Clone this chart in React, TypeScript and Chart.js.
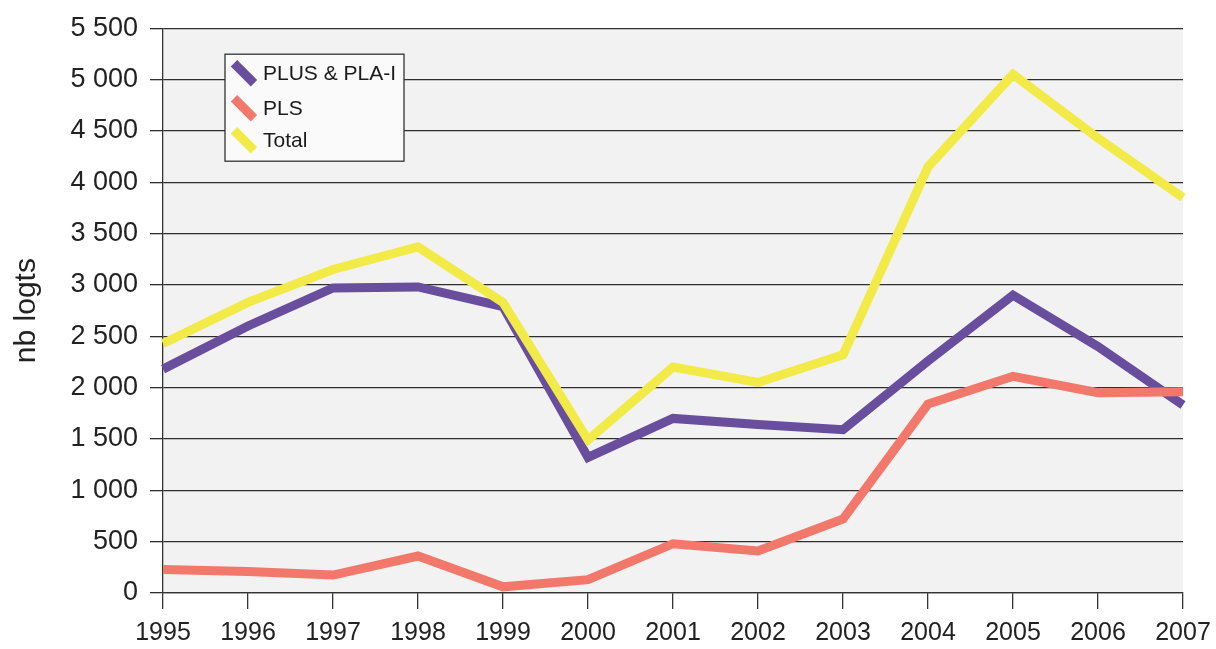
import React, { useEffect, useRef } from "react";
import { Chart, registerables } from "chart.js";

Chart.register(...registerables);

const years = ["1995", "1996", "1997", "1998", "1999", "2000", "2001", "2002", "2003", "2004", "2005", "2006", "2007"];
const plusPla = [2180, 2600, 2970, 2980, 2790, 1320, 1700, 1640, 1590, 2260, 2900, 2400, 1830];
const pls = [230, 210, 175, 360, 60, 130, 480, 410, 720, 1840, 2110, 1950, 1960];
const total = [2430, 2830, 3150, 3370, 2830, 1490, 2200, 2050, 2320, 4150, 5050, 4430, 3850];
const seriesNames = ["PLUS & PLA-I", "PLS", "Total"];
const seriesColors = ["#6a4e9e", "#f2786c", "#f1ea47"];
const yMax = 5500;
const yStep = 500;
const axisTitle = "nb logts";

const fmt = (v: number) => String(v).replace(/\B(?=(\d{3})+(?!\d))/g, " ");

const bgPlugin = {
  id: "plotBg",
  beforeDraw(chart: any) {
    const { ctx, chartArea } = chart;
    ctx.save();
    ctx.fillStyle = "#f2f2f2";
    ctx.fillRect(chartArea.left, chartArea.top, chartArea.right - chartArea.left, chartArea.bottom - chartArea.top);
    ctx.restore();
  },
};

const legendPlugin = {
  id: "boxLegend",
  afterDraw(chart: any) {
    const { ctx, chartArea } = chart;
    const x0 = chartArea.left + 62;
    const y0 = chartArea.top + 26;
    const w = 179;
    const h = 107;
    ctx.save();
    ctx.fillStyle = "#fafafa";
    ctx.fillRect(x0, y0, w, h);
    ctx.strokeStyle = "#333";
    ctx.lineWidth = 1.3;
    ctx.strokeRect(x0, y0, w, h);
    ctx.font = "21px 'Liberation Sans', Arial, sans-serif";
    ctx.textBaseline = "middle";
    ctx.fillStyle = "#1a1a1a";
    const rows = [19, 54, 86];
    seriesNames.forEach((name, i) => {
      const cy = y0 + rows[i];
      ctx.strokeStyle = seriesColors[i];
      ctx.lineWidth = 9;
      ctx.lineCap = "butt";
      ctx.beginPath();
      ctx.moveTo(x0 + 9, cy - 10);
      ctx.lineTo(x0 + 29, cy + 10);
      ctx.stroke();
      ctx.fillText(name, x0 + 38, cy + 1);
    });
    ctx.restore();
  },
};

export default function App() {
  const ref = useRef<HTMLCanvasElement | null>(null);
  useEffect(() => {
    document.body.style.margin = "0";
    const canvas = ref.current;
    if (!canvas) return;
    const data = [plusPla, pls, total];
    const chart = new Chart(canvas, {
      type: "line",
      data: {
        labels: years,
        datasets: data.map((d, i) => ({
          label: seriesNames[i],
          data: d,
          borderColor: seriesColors[i],
          backgroundColor: seriesColors[i],
          borderWidth: 9,
          pointRadius: 0,
          tension: 0,
          fill: false,
          borderJoinStyle: "miter" as const,
          order: 2 - i,
        })),
      },
      options: {
        responsive: false,
        animation: false,
        layout: { padding: { top: 28, right: 33, left: 0, bottom: 0 } },
        plugins: { legend: { display: false }, tooltip: { enabled: false } },
        scales: {
          x: {
            type: "category",
            offset: false,
            grid: { drawOnChartArea: false, drawTicks: true, tickLength: 16, color: "#333", lineWidth: 1.3 },
            border: { display: true, color: "#333", width: 1.3 },
            ticks: {
              font: { size: 25, family: "'Liberation Sans', Arial, sans-serif" },
              color: "#222",
              padding: 9,
              maxRotation: 0,
              autoSkip: false,
            },
            afterFit: (s: any) => {
              s.height = 56;
              s.paddingLeft = 0;
              s.paddingRight = 0;
            },
          },
          y: {
            min: 0,
            max: yMax,
            grid: { color: "#2e2e2e", lineWidth: 1.3, tickLength: 13 },
            border: { display: true, color: "#333", width: 1.3 },
            ticks: {
              stepSize: yStep,
              font: { size: 27, family: "'Liberation Sans', Arial, sans-serif" },
              color: "#222",
              padding: 12,
              callback: (v: any) => fmt(Number(v)),
            },
            title: {
              display: true,
              text: axisTitle,
              font: { size: 30, family: "'Liberation Sans', Arial, sans-serif" },
              color: "#222",
              padding: { top: 9, bottom: 0 },
            },
            afterFit: (s: any) => {
              s.width = 163;
            },
          },
        },
      },
      plugins: [bgPlugin, legendPlugin],
    });
    return () => chart.destroy();
  }, []);
  return (
    <div style={{ width: 1216, height: 649, background: "#fff" }}>
      <canvas ref={ref} width={1216} height={649} style={{ display: "block" }} />
    </div>
  );
}
